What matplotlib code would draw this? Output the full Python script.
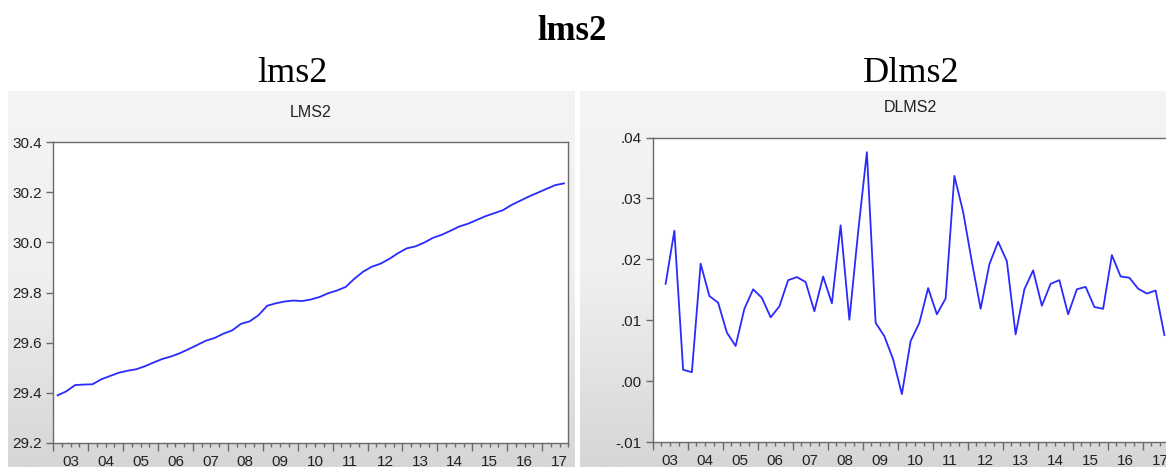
import numpy as np
import matplotlib
matplotlib.use("Agg")
import matplotlib.pyplot as plt
from matplotlib.ticker import FixedLocator, FuncFormatter
from matplotlib.colors import LinearSegmentedColormap

# ---------------- data (quarterly, 2003Q1 .. 2017Q3) ----------------
year_labels = ["03", "04", "05", "06", "07", "08", "09", "10",
               "11", "12", "13", "14", "15", "16", "17"]
n_quarters = 59

lms2 = [29.390, 29.406, 29.431, 29.433, 29.434, 29.454, 29.467, 29.480,
        29.488, 29.494, 29.506, 29.521, 29.535, 29.545, 29.558, 29.574,
        29.591, 29.608, 29.619, 29.636, 29.649, 29.675, 29.685, 29.709,
        29.747, 29.757, 29.764, 29.768, 29.766, 29.772, 29.782, 29.797,
        29.808, 29.822, 29.855, 29.883, 29.903, 29.915, 29.934, 29.957,
        29.976, 29.984, 29.999, 30.018, 30.030, 30.046, 30.063, 30.074,
        30.089, 30.104, 30.116, 30.128, 30.149, 30.166, 30.183, 30.198,
        30.213, 30.228, 30.235]

# DLMS2 starts in 2003Q2
dlms2 = [0.0160, 0.0247, 0.0019, 0.0015, 0.0193, 0.0140, 0.0129, 0.0080,
         0.0058, 0.0119, 0.0151, 0.0137, 0.0105, 0.0123, 0.0166, 0.0171,
         0.0163, 0.0115, 0.0172, 0.0128, 0.0256, 0.0101, 0.0245, 0.0376,
         0.0096, 0.0074, 0.0036, -0.0021, 0.0066, 0.0096, 0.0153, 0.0110,
         0.0136, 0.0337, 0.0278, 0.0196, 0.0119, 0.0192, 0.0229, 0.0197,
         0.0077, 0.0151, 0.0182, 0.0124, 0.0160, 0.0166, 0.0110, 0.0151,
         0.0155, 0.0122, 0.0119, 0.0207, 0.0172, 0.0170, 0.0152, 0.0144,
         0.0149, 0.0076]

lms2_yticks = [29.2, 29.4, 29.6, 29.8, 30.0, 30.2, 30.4]
dlms2_yticks = [-0.01, 0.00, 0.01, 0.02, 0.03, 0.04]

# ---------------- figure ----------------
W, H = 1166, 467
fig = plt.figure(figsize=(W / 100, H / 100), dpi=100)
fig.patch.set_facecolor("white")

SANS = ["Liberation Sans", "DejaVu Sans"]
SERIF = ["Liberation Serif", "DejaVu Serif"]
LINE = "#2a2aff"
SPINE = "#6a6a6a"
TXT = "#222222"

def px(x0, y0, x1, y1):
    """pixel box (top-left origin) -> figure fraction rect"""
    return [x0 / W, 1 - y1 / H, (x1 - x0) / W, (y1 - y0) / H]

# gray gradient panels
cmap = LinearSegmentedColormap.from_list("g", ["#f4f4f4", "#efefef", "#d6d6d6"])
grad = np.linspace(0, 1, 256).reshape(-1, 1)
for box in [(8, 91, 575, 467), (580, 91, 1166, 467)]:
    bg = fig.add_axes(px(*box), zorder=-5)
    bg.imshow(grad, aspect="auto", cmap=cmap, extent=[0, 1, 0, 1], origin="upper")
    bg.set_axis_off()

# titles
fig.text(572 / W, 1 - 40 / H, "lms2", family=SERIF, weight="bold",
         fontsize=25, ha="center", va="baseline", color="black")
fig.text(292 / W, 1 - 82 / H, "lms2", family=SERIF, fontsize=26,
         ha="center", va="baseline", color="black")
fig.text(911 / W, 1 - 82 / H, "Dlms2", family=SERIF, fontsize=26,
         ha="center", va="baseline", color="black")

quarter_x = np.arange(n_quarters) + 0.5
year_bounds = np.arange(0, n_quarters + 1, 4)
year_centers = np.arange(len(year_labels)) * 4 + 2


def style_axis(ax, yticks, yfmt):
    ax.set_facecolor("white")
    ax.set_xlim(0, n_quarters)
    ax.set_ylim(yticks[0], yticks[-1])
    for s in ax.spines.values():
        s.set_color(SPINE)
        s.set_linewidth(1.0)
    ax.yaxis.set_major_locator(FixedLocator(yticks))
    ax.yaxis.set_major_formatter(FuncFormatter(yfmt))
    ax.tick_params(axis="y", direction="out", length=5, width=1, color=SPINE,
                   labelsize=11, labelcolor=TXT, pad=3)
    for lab in ax.get_yticklabels():
        lab.set_family(SANS)
    ax.xaxis.set_major_locator(FixedLocator(year_bounds))
    ax.xaxis.set_minor_locator(FixedLocator(np.arange(0, n_quarters + 1)))
    ax.tick_params(axis="x", which="major", direction="out", length=5.5,
                   width=1, color=SPINE, labelbottom=False)
    ax.tick_params(axis="x", which="minor", direction="out", length=3,
                   width=1, color=SPINE)
    sec = ax.secondary_xaxis("bottom")
    sec.set_xticks(year_centers, year_labels)
    sec.tick_params(length=0, pad=8.5, labelsize=11, labelcolor=TXT)
    for lab in sec.get_xticklabels():
        lab.set_family(SANS)
    for s in sec.spines.values():
        s.set_visible(False)


# left panel: LMS2
ax1 = fig.add_axes(px(53.25, 142, 568.3, 443))
ax1.plot(quarter_x, lms2, color=LINE, lw=1.3)
style_axis(ax1, lms2_yticks, lambda v, p: f"{v:.1f}")
fig.text((53.25 + 568.3) / 2 / W, 1 - 117 / H, "LMS2", family=SANS,
         fontsize=11.5, ha="center", va="baseline", color=TXT)


def dfmt(v, p):
    s = f"{v:.2f}"
    return s.replace("0.", ".", 1)


# right panel: DLMS2
ax2 = fig.add_axes(px(652.5, 137.5, 1168.75, 442.3))
ax2.plot(quarter_x[1:], dlms2, color=LINE, lw=1.3)
style_axis(ax2, dlms2_yticks, dfmt)
fig.text((652.5 + 1168.75) / 2 / W, 1 - 112 / H, "DLMS2", family=SANS,
         fontsize=11.5, ha="center", va="baseline", color=TXT)

fig.savefig("out.png", dpi=100)
